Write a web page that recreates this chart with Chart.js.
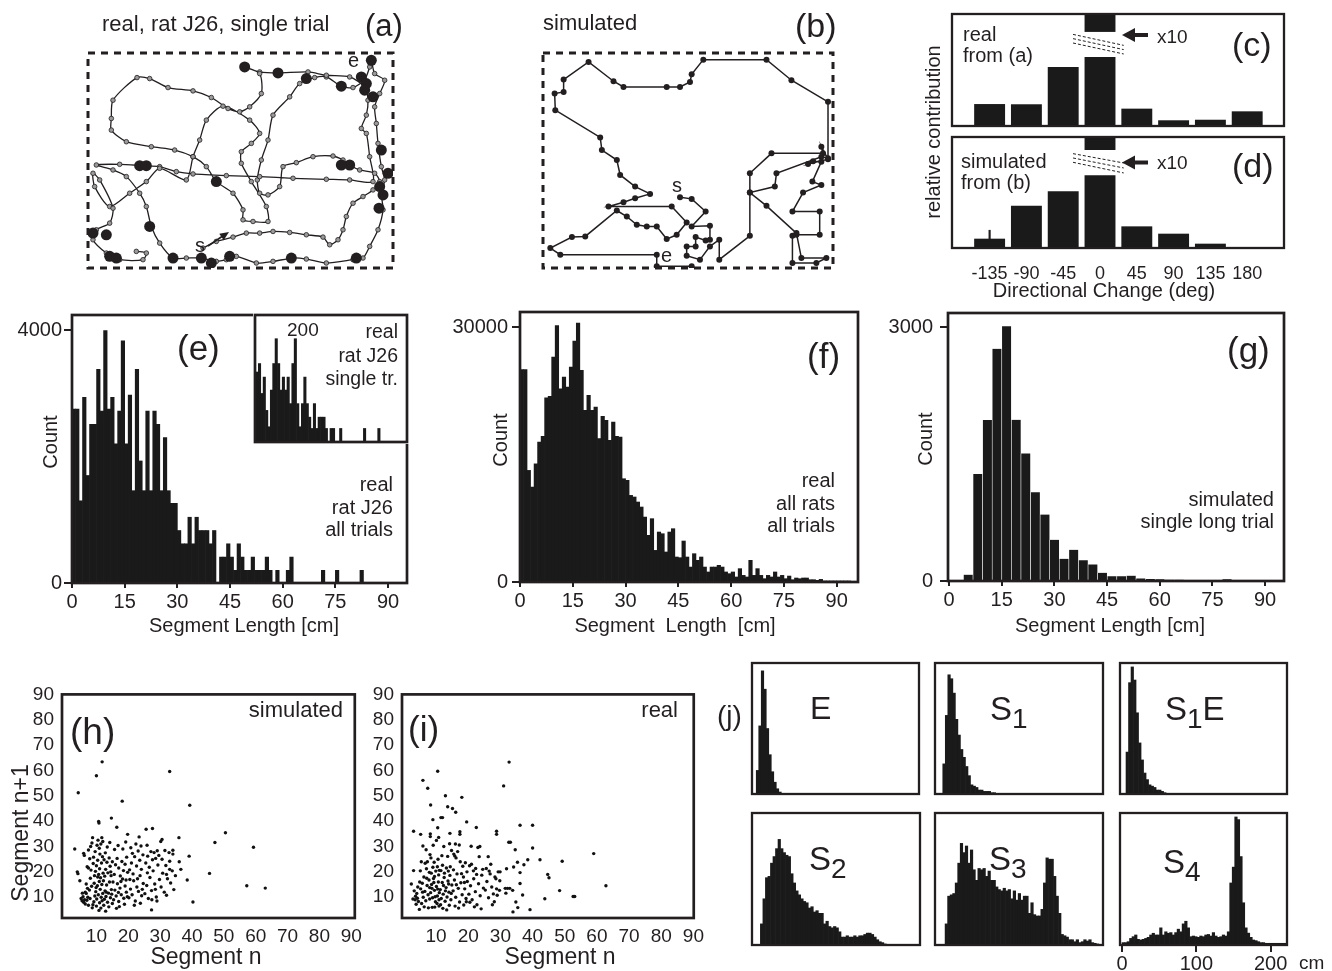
<!DOCTYPE html>
<html>
<head>
<meta charset="utf-8">
<script src="https://cdn.jsdelivr.net/npm/chart.js@4.4.1/dist/chart.umd.min.js"></script>
<style>
html, body { margin: 0; padding: 0; background: #fff; overflow: hidden; }
#fig { position: relative; width: 1332px; height: 971px; overflow: hidden;
       font-family: "Liberation Sans", Arial, sans-serif; color: #231f20; }
#fig canvas { position: absolute; }
.t { position: absolute; white-space: pre; line-height: 1; }
#ov { position: absolute; left: 0; top: 0; }
</style>
</head>
<body>
<div id="fig">
  <canvas id="cA"></canvas>
  <canvas id="cB"></canvas>
  <canvas id="cC"></canvas>
  <canvas id="cD"></canvas>
  <canvas id="cE"></canvas>
  <canvas id="cEin"></canvas>
  <canvas id="cF"></canvas>
  <canvas id="cG"></canvas>
  <canvas id="cH"></canvas>
  <canvas id="cI"></canvas>
  <canvas id="cJ0"></canvas>
  <canvas id="cJ1"></canvas>
  <canvas id="cJ2"></canvas>
  <canvas id="cJ3"></canvas>
  <canvas id="cJ4"></canvas>
  <canvas id="cJ5"></canvas>
  <svg id="ov" width="1332" height="971">
    <!-- arrow next to s in (a) -->
    <line x1="208" y1="246" x2="222" y2="236.5" stroke="#231f20" stroke-width="1.6"/>
    <polygon points="229,232 223.7,240.3 219.3,233.7" fill="#231f20"/>
    <!-- x10 arrows in (c) and (d) -->
    <polygon points="1122,35 1135,28 1135,42" fill="#231f20"/>
    <rect x="1134" y="33" width="14" height="4" fill="#231f20"/>
    <polygon points="1122,162.5 1135,155.5 1135,169.5" fill="#231f20"/>
    <rect x="1134" y="160.5" width="14" height="4" fill="#231f20"/>
  </svg>
</div>
<script>
// ---------------- data ----------------

// (a) real trajectory, tracker pixel coords (y down)
const realTrack = [
  [430,745],[470,725],[520,712],[560,700],[600,700],[640,695],[690,698],[740,705],[790,712],[810,735],
  [835,720],[850,690],[860,650],[880,610],[910,590],[940,570],[960,545],[945,520],[900,510],[870,495],
  [850,480],[820,468],[760,470],[710,488],[670,500],[660,560],[625,585],[600,580],[593,540],[605,480],
  [625,420],[640,345],[690,290],[720,250],[765,232],[800,230],[845,258],[880,262],[915,238],[930,200],
  [935,180],[945,220],[975,240],[960,280],[945,320],[950,370],[955,430],[965,500],[975,540],[965,580],
  [970,630],[955,690],[930,740],[910,775],[880,780],[800,790],[740,778],[700,775],[640,785],[590,790],
  [530,770],[500,780],[470,785],[425,775],[380,775],[340,775],[300,730],[275,680],[260,620],[240,580],
  [200,530],[160,510],[110,495],[180,493],[250,497],[300,500],[350,515],[400,522],[500,527],[600,530],
  [700,535],[800,538],[870,540],[940,545],[930,470],[920,400],[905,385],[920,345],[925,300],[915,260],
  [870,230],[800,225],[745,215],[655,218],[600,215],[555,200],[600,220],[605,280],[570,320],[540,335],
  [505,325],[455,292],[400,272],[325,262],[270,235],[232,232],[160,300],[155,355],[155,390],[200,425],
  [275,440],[345,450],[400,470],[440,500],[470,545],[520,580],[550,630],[550,660],[580,665],[625,665],
  [620,620],[575,545],[545,490],[545,455],[575,430],[600,400],[570,360],[490,318],[440,360],[420,420],
  [400,470],[380,540],[300,505],[260,545],[210,580],[150,620],[105,560],[100,520],[120,540],[160,625],
  [150,670],[110,690],[100,720],[140,760],[180,780],[250,780],[260,760],[230,755]
];
const realPauses = [
  [555,200],[655,218],[740,235],[845,258],[935,180],[905,230],[920,250],[915,270],[940,290],[870,495],
  [845,495],[240,497],[260,497],[470,545],[965,450],[960,560],[970,585],[958,625],[140,705],[150,770],
  [170,775],[100,700],[425,775],[510,770],[455,790],[340,775],[695,775],[890,775],[270,680],[985,520]
];

// (b) simulated trajectory, same coordinate frame
const simTrack = [
  [480,592],[515,597],[557,635],[515,680],[570,678],[570,720],[557,722],[527,712],[527,740],[500,740],
  [500,768],[540,780],[570,740],[598,720],[598,780],[690,708],[690,578],[690,520],[755,460],[910,460],
  [905,440],[925,478],[865,492],[880,484],[905,485],[878,545],[905,555],[850,578],[818,635],[900,635],
  [900,705],[830,705],[818,708],[818,790],[890,790],[920,775],[845,775],[830,700],[740,618],[690,578],
  [765,560],[770,520],[905,470],[925,475],[925,305],[815,240],[740,178],[550,178],[515,222],[510,245],
  [480,260],[440,260],[310,260],[280,243],[205,185],[130,238],[130,275],[103,280],[105,330],[240,412],
  [245,450],[290,480],[300,525],[345,560],[390,582],[345,595],[310,607],[265,620],[455,620],[500,668],
  [470,705],[440,718],[410,680],[380,680],[350,675],[320,650],[290,632],[195,710],[155,712],[90,745],
  [120,765],[410,765],[410,800],[515,800]
];

// (c)/(d) directional change
const dirCats = [-135, -90, -45, 0, 45, 90, 135, 180];
const dirReal = [0.196, 0.194, 0.527, 0.616, 0.155, 0.051, 0.056, 0.131];
const dirSim = [0.084, 0.381, 0.511, 0.655, 0.195, 0.129, 0.039, 0.0];
const dirRealTop = [0.84, 1.0];   // upper piece of the broken (x10) bar
const dirSimTop = [0.883, 1.0];
const dirSimErr = [0.084, 0.16];
const breakReal = [[[-33, 0.818], [29, 0.720]], [[-33, 0.780], [29, 0.682]], [[-33, 0.741], [29, 0.643]]];
const breakSim = [[[-33, 0.850], [29, 0.766]], [[-33, 0.811], [29, 0.721]], [[-33, 0.772], [29, 0.676]]];

// (e) real rat J26 all trials, 1 cm bins from 0
const eCounts = [
  2750,2750,1300,2935,1700,2510,2510,3380,2720,3990,
  2750,2935,2200,2720,3830,2200,2970,1460,3380,1930,
  1460,2720,1460,2720,2510,1460,2300,1460,1260,1260,
  830,620,620,1040,620,1040,830,830,830,620,
  830,0,410,410,620,410,200,620,410,200,
  200,410,200,200,200,410,200,0,200,0,
  0,200,410,0,0,0,0,0,0,0,
  0,200,0,0,0,200,0,0,0,0,
  0,0,200,0,0,0,0,0,0,0,
  0,0,0,0,0
];
// (e) inset, single trial, 1.5 cm bins from 0.6
const insetCounts = [
  124,139,86,115,56,27,92,139,183,139,
  92,115,92,115,68,139,183,68,27,68,
  115,68,44,24,68,24,44,44,44,24,
  0,24,24,0,0,24,0,0,0,0,
  0,0,0,0,0,24,0,0,0,0,
  0,24
];
// (f) all rats, 1 cm bins from 0
const fCounts = [
  25000,25000,13130,11170,13900,16460,17130,21680,21830,26460,
  30180,22740,24110,22930,25280,28340,30460,24890,20190,21950,
  20190,20580,16860,19480,19010,16660,18820,17130,17050,12150,
  11960,10190,10000,9410,8820,7640,5490,7450,3720,5880,
  5680,3530,5880,6270,2940,2860,4820,2940,1760,3330,
  2550,2940,1760,1180,1760,1760,1960,1760,1180,980,
  1180,590,1570,780,590,2550,780,1570,780,390,
  780,590,1180,590,780,390,700,270,470,390,
  470,470,270,270,200,310,120,80,60,40,
  30,20,10,10,0,0
];
// (g) simulated single long trial, 2.73 cm bins from 4.1
const gCounts = [
  75,1265,1902,2745,3010,1905,1508,1049,786,487,
  263,369,244,196,98,55,55,63,31,24,
  20,16,16,12,10,8,8,20,6,4,
  4,4,8
];

// (h) simulated, (i) real: segment n vs segment n+1 [cm]
const simPairs = [
  [11.8,63.4],[10,57.9],[4.3,51.2],[33,59.6],[18.1,47.9],[39.3,46.3],[10.7,39.9],[10.8,39.3],[14.7,41.2],[16.4,37.6],
  [50.5,35.4],[47.2,31.6],[59.3,29.7],[45.5,19.4],[57.2,14.5],[63,13.6],[40.3,8.1],[27.3,5.0],[35.9,33.5],[39.1,26.2],
  [38.5,16.8],[3.2,29],[4,20],[4.2,19.3],[4.8,16.5],[25.6,36.8],[27.6,37.1],[23.4,33.8],[19.8,34.8],[30.6,32.8],
  [34,27],[36,24],[36.5,21],[33,21],[32,19],
  [5.2,9.5],[5.5,8.6],[5.8,10.2],[6.0,8.0],[6.3,9.0],[6.5,7.3],[6.8,11.5],[7.0,8.8],[7.3,10.0],[7.5,6.8],
  [7.8,12.8],[8.0,9.5],[6.2,26.5],[6.0,27.3],[7.5,28.6],[8.2,30.0],[7.9,25.2],[8.6,31.4],[8.8,33.5],[7.1,22.0],
  [7.5,21.5],[8.1,17.5],[6.8,15.2],[7.2,13.5],[8.5,14.3],[8.3,20.7],[6.5,12.0],[5.6,11.6],[8.9,7.0],[8.7,5.8],
  [9.2,8.2],[9.5,10.5],[9.8,12.2],[10.1,9.3],[10.3,14.5],[10.6,11.0],[10.9,16.2],[11.2,13.1],[11.5,10.0],[11.8,8.6],
  [9.4,18.5],[9.7,20.2],[10.0,22.4],[10.4,24.6],[10.7,19.0],[11.0,21.2],[11.3,17.7],[11.6,23.5],[11.9,26.0],[9.1,25.8],
  [9.6,28.0],[10.2,30.5],[10.5,32.5],[10.9,29.3],[11.4,31.0],[11.7,33.5],[12.0,32.0],[9.3,15.5],[10.0,6.5],[10.8,4.8],
  [11.4,5.7],[12.0,11.5],[11.1,27.0],[9.9,13.8],[10.4,18.0],[11.7,15.0],[9.0,23.3],[12.1,19.5],[12.3,6.8],[11.0,7.8],
  [12.5,9.2],[12.7,12.5],[13.0,10.3],[13.2,14.8],[13.5,8.0],[13.8,11.6],[14.1,16.0],[14.4,9.8],[14.7,13.0],[15.0,7.5],
  [12.6,18.3],[12.9,21.0],[13.3,23.8],[13.6,19.6],[14.0,25.5],[14.3,22.2],[14.6,18.5],[12.8,27.5],[13.4,29.8],[14.2,31.6],
  [12.4,24.8],[13.9,6.2],[14.8,11.2],[12.2,16.5],[13.1,12.0],[14.5,20.0],[12.9,4.5],[15.0,24.0],
  [15.4,9.0],[15.8,12.8],[16.2,10.5],[16.6,15.3],[17.0,8.3],[17.4,13.6],[17.8,11.0],[18.2,17.2],[18.6,9.6],[19.0,14.4],
  [19.4,12.0],[19.8,19.8],[15.6,19.0],[16.0,22.8],[16.5,25.3],[17.0,21.5],[17.5,18.4],[18.0,24.1],[18.5,20.5],[19.0,23.0],
  [19.5,25.8],[15.7,28.8],[16.8,30.4],[18.3,29.0],[19.2,31.8],[17.2,6.3],[18.8,7.2],[16.3,5.6],[19.7,10.2],[15.2,16.0],
  [17.7,16.2],[19.3,16.8],[16.9,11.9],
  [20.2,9.8],[20.7,13.2],[21.2,11.0],[21.7,16.5],[22.2,8.5],[22.7,14.0],[23.2,12.3],[23.7,18.5],[24.2,10.6],[24.7,15.4],
  [20.4,20.8],[21.0,23.5],[21.5,19.2],[22.0,26.0],[22.6,22.3],[23.1,28.2],[23.6,24.6],[24.1,21.0],[24.6,26.7],[20.8,29.5],
  [22.4,31.0],[24.0,30.2],[21.9,6.8],[23.8,7.6],[20.5,17.0],[22.9,17.3],[24.4,13.1],[21.3,27.3],
  [25.2,11.4],[25.8,14.6],[26.3,9.5],[26.8,17.8],[27.3,12.6],[27.8,20.4],[28.3,15.2],[28.8,10.1],[29.3,22.7],[29.8,17.0],
  [25.5,23.5],[26.1,26.2],[26.6,21.8],[27.1,28.0],[27.6,24.8],[28.1,27.6],[28.6,25.3],[29.1,28.3],[29.6,26.5],[25.9,30.5],
  [27.4,9.0],[29.0,8.5],[26.0,19.6],[28.5,13.1],
  [30.3,14.0],[30.8,19.5],[31.3,12.0],[31.8,22.5],[32.3,17.3],[32.8,27.6],[33.3,15.6],[33.8,20.4],[34.3,13.0],[30.6,25.0],
  [31.5,28.4],[32.0,10.8],[33.0,24.2],[34.0,28.5],[34.8,18.5],[30.2,32.0]
];
const realPairs = [
  [32.7,63.3],[10.5,59.7],[5.9,56.1],[7.4,53],[31,53.9],[12.9,50],[18,49.4],[8.3,46.4],[13.6,45.7],[15.1,45],
  [16.1,43.5],[9,40.6],[11.5,41.4],[12,41.4],[19.5,39.7],[36.1,38.4],[40,38.4],[3,36],[5.2,34.8],[8.2,35],
  [8.2,33.9],[10.5,37.4],[14.3,35.2],[17.4,35.8],[17.4,34.8],[22.5,37.5],[28.8,36],[28.8,34.8],[32.6,31.7],[33.1,31.7],
  [40,29.4],[38.5,24.8],[42.3,24.8],[49.2,24.2],[59,27.2],[62.8,14.5],[44.7,19],[45.1,17.7],[48.4,12.6],[52.6,10.3],
  [53.1,10.3],[43.8,9.4],[39.2,5.1],[35.4,5.9],[33.9,4.2],[34.8,8.1],[36.9,10.9],[36.1,15.4],[36.1,19.7],[34.6,28.7],
  [34.1,21.9],[31.9,21.2],[31.5,13.5],[32.2,13.5],[32.9,13.5],[31.7,11.6],[33.8,12.7],[37.3,22.8],[35.3,23.8],
  [2.3,15.2],[3.0,20.5],[3.2,12.5],[3.5,9.0],[3.8,7.2],[4.0,11.5],[4.3,14.0],[4.5,8.3],[4.8,5.2],[4.9,16.0],
  [3.6,10.4],[4.2,9.6],[2.8,9.3],
  [5.2,13.3],[5.5,7.5],[5.7,15.5],[6.0,10.0],[6.2,18.0],[6.5,12.3],[6.8,8.6],[7.0,21.2],[7.2,14.6],[7.5,11.0],
  [7.8,16.8],[8.0,9.3],[5.4,24.0],[6.6,23.4],[7.3,24.0],[7.9,19.8],[5.9,30.2],[6.3,6.2],[7.6,5.8],[6.9,28.7],
  [8.1,26.8],[5.1,20.4],[7.1,17.5],[5.8,12.0],[8.0,13.8],
  [8.3,11.8],[8.6,15.0],[8.9,9.8],[9.2,17.4],[9.5,12.7],[9.8,8.2],[10.1,14.2],[10.4,10.5],[10.7,16.0],[11.0,11.8],
  [8.5,19.5],[9.0,21.8],[9.5,18.2],[9.9,20.3],[10.4,22.0],[10.8,18.8],[8.8,6.0],[9.6,6.1],[10.3,7.5],[10.9,9.0],
  [8.4,25.5],[9.4,23.8],[10.6,25.0],[9.1,30.5],[10.1,32.4],[10.8,33.6],[9.7,10.2],[10.5,13.2],[8.7,13.5],[11.0,20.6],
  [9.3,15.8],[10.9,6.5],
  [11.3,13.0],[11.6,9.5],[11.9,15.8],[12.2,11.2],[12.5,17.8],[12.8,8.4],[13.1,13.8],[13.4,10.1],[13.7,16.4],[14.0,12.0],
  [14.3,18.6],[14.6,9.0],[14.9,14.8],[11.5,20.5],[12.0,22.6],[12.6,19.5],[13.2,21.5],[13.8,20.3],[14.4,22.0],[11.8,26.4],
  [12.4,30.0],[13.6,26.1],[14.2,31.1],[14.8,28.4],[12.1,5.6],[13.3,5.0],[14.1,6.8],[11.4,7.0],[12.9,12.5],[14.7,11.5],
  [12.3,14.6],[13.9,15.2],
  [15.3,12.5],[15.7,16.8],[16.1,10.0],[16.5,19.2],[16.9,13.5],[17.3,8.1],[17.7,15.7],[18.1,11.0],[18.5,18.0],[18.9,13.3],
  [19.3,9.5],[19.7,16.2],[15.5,27.0],[15.8,26.3],[16.2,25.5],[16.7,28.0],[17.5,24.0],[18.3,22.2],[19.1,23.6],[19.6,20.0],
  [15.9,6.5],[17.0,5.7],[18.6,6.9],[19.4,8.2],[15.4,20.8],[17.9,19.3],[16.3,14.9],[18.8,15.8],[16.0,31.0],[17.2,30.6],
  [20.2,11.2],[20.7,14.5],[21.2,9.0],[21.7,17.3],[22.2,12.2],[22.7,7.0],[23.2,15.3],[23.7,10.6],[24.2,18.7],[24.7,13.6],
  [20.4,22.4],[21.0,23.0],[21.6,20.4],[22.3,21.3],[23.0,29.6],[23.6,30.0],[20.9,30.1],[21.9,6.2],[24.0,5.4],[20.5,8.0],
  [22.6,19.0],[24.5,21.0],[23.4,26.0],
  [25.3,12.8],[25.8,16.2],[26.3,9.8],[26.8,19.2],[27.3,14.0],[27.8,11.3],[28.3,18.0],[28.8,13.3],[29.3,20.0],[29.8,16.5],
  [25.6,21.3],[26.2,26.0],[27.0,23.0],[28.1,8.2],[29.0,10.8],[29.7,12.7],[27.5,7.0],[26.5,20.3],[29.9,20.0],[28.6,17.3]
];

// (j) segment-length histograms per environment, normalised, 3.37 cm bins
const jBinWidth = 3.37;
const jStarts = [3.0, 7.7, 5.4, 8.5, 10.8, 0.0];
const jE = [0.18,0.52,0.94,0.80,0.50,0.30,0.17,0.09,0.04,0.015];
const jS1 = [0.23,0.60,0.91,0.88,0.77,0.57,0.45,0.34,0.28,0.21,0.14,0.07,0.06,0.05,0.03,0.03,0.02,0.02,0.02,0.01,0.01,0.005,0.005];
const jS1E = [0.32,0.85,0.97,0.87,0.62,0.39,0.26,0.16,0.11,0.07,0.06,0.05,0.03,0.03,0.02,0.01,0.005];
const jS2 = [0.16,0.35,0.51,0.52,0.62,0.67,0.73,0.80,0.73,0.70,0.68,0.67,0.54,0.47,0.41,0.38,0.35,0.33,0.32,0.28,
  0.29,0.25,0.26,0.24,0.24,0.16,0.18,0.14,0.13,0.14,0.13,0.10,0.06,0.06,0.07,0.06,0.06,0.07,0.06,0.07,
  0.07,0.08,0.09,0.09,0.08,0.06,0.04,0.025,0.018,0.008];
const jS3 = [0.16,0.37,0.38,0.39,0.47,0.62,0.77,0.70,0.75,0.62,0.72,0.57,0.49,0.58,0.57,0.58,0.52,0.56,0.49,0.49,
  0.44,0.42,0.41,0.43,0.41,0.42,0.35,0.41,0.34,0.39,0.34,0.37,0.37,0.24,0.32,0.23,0.22,0.22,0.27,0.47,
  0.66,0.65,0.65,0.52,0.37,0.24,0.08,0.07,0.06,0.04,0.04,0.025,0.04,0.018,0.025,0.04,0.03,0.04,0.018,0.013,0.008];
const jS4 = [0.018,0.018,0.025,0.05,0.063,0.076,0.043,0.038,0.043,0.05,0.058,0.076,0.089,0.076,0.076,0.13,0.076,0.10,0.089,0.094,
  0.076,0.094,0.12,0.10,0.16,0.18,0.13,0.063,0.068,0.063,0.058,0.068,0.063,0.076,0.08,0.068,0.094,0.068,0.058,0.063,
  0.076,0.068,0.10,0.47,0.59,0.97,0.95,0.67,0.32,0.13,0.09,0.058,0.038,0.033,0.025,0.018,0.018,0.013,0.013,0.013,
  0.013,0.013,0.013,0.013,0.013,0.013];
const jValues = [jE, jS1, jS1E, jS2, jS3, jS4];

// tick labels
const eTicksX = [0, 15, 30, 45, 60, 75, 90];
const eTicksY = [0, 4000];
const fTicksY = [0, 30000];
const gTicksY = [0, 3000];
const pairTicks = [10, 20, 30, 40, 50, 60, 70, 80, 90];
const jTicksX = [0, 100, 200];

// ---------------- setup ----------------
const INK = '#231f20';
const BAR = '#1a1a1a';
Chart.defaults.font.family = '"Liberation Sans", Arial, sans-serif';
Chart.defaults.color = INK;
Chart.defaults.animation = false;
Chart.defaults.plugins.legend.display = false;
Chart.defaults.plugins.tooltip.enabled = false;

// box around the plot area (solid or dashed), optional white background
Chart.register({
  id: 'frame',
  beforeDraw(chart, args, o) {
    if (!o || !o.bg) return;
    const a = chart.chartArea, ctx = chart.ctx;
    ctx.save();
    ctx.fillStyle = o.bg;
    ctx.fillRect(a.left - 2, a.top - 2, a.width + 4, a.height + 4);
    ctx.restore();
  },
  afterDatasetsDraw(chart, args, o) {
    if (!o || !o.width) return;
    const a = chart.chartArea, ctx = chart.ctx;
    ctx.save();
    ctx.strokeStyle = INK;
    ctx.lineWidth = o.width;
    ctx.setLineDash(o.dash || []);
    ctx.strokeRect(a.left, a.top, a.width, a.height);
    ctx.restore();
  }
});

function axis({ min, max, ticks = null, tickLen = 0, pad = 3, size = 20, reverse = false }) {
  return {
    type: 'linear', min, max, reverse, offset: false,
    afterBuildTicks: s => { s.ticks = (ticks || []).map(v => ({ value: v })); },
    ticks: { display: !!ticks, padding: pad, font: { size }, color: INK,
             autoSkip: false, maxRotation: 0, callback: v => String(v) },
    grid: { display: tickLen > 0, drawOnChartArea: false, drawTicks: true, tickLength: tickLen,
            lineWidth: 2, color: INK, offset: false },
    border: { display: false }
  };
}

// place a canvas so its chart area lands exactly on box
function mount(id, box, pad, cfg) {
  const c = document.getElementById(id);
  c.width = box.w + pad.l + pad.r;
  c.height = box.h + pad.t + pad.b;
  c.style.left = (box.x - pad.l) + 'px';
  c.style.top = (box.y - pad.t) + 'px';
  const o = cfg.options;
  o.responsive = false;
  o.devicePixelRatio = 1;
  o.layout = { padding: { top: pad.t, right: pad.r, left: 0, bottom: 0 } };
  o.scales.x.afterFit = s => { s.height = pad.b; };
  o.scales.y.afterFit = s => { s.width = pad.l; };
  return new Chart(c, cfg);
}

const toXY = a => a.map(p => ({ x: p[0], y: p[1] }));
const binsXY = (vals, start, w) => vals.map((v, i) => ({ x: start + w * (i + 0.5), y: v }));
const histSet = (data, extra = {}) => Object.assign({
  data, backgroundColor: BAR, borderWidth: 0, barPercentage: 1, categoryPercentage: 1, grouped: false
}, extra);

// ---------------- (a) and (b) trajectories ----------------
mount('cA', { x: 88, y: 53, w: 305, h: 215 }, { l: 6, r: 6, t: 6, b: 6 }, {
  type: 'scatter',
  data: { datasets: [
    { data: toXY(realTrack), order: 1, showLine: true, borderColor: INK, borderWidth: 1.3, tension: 0.25,
      pointRadius: 2.3, pointBackgroundColor: '#9a9a9a', pointBorderColor: INK, pointBorderWidth: 0.8 },
    { data: toXY(realPauses), order: 0, pointRadius: 5.5, pointBackgroundColor: INK, pointBorderWidth: 0 }
  ] },
  options: { plugins: { frame: { width: 3, dash: [7, 6] } },
    scales: { x: axis({ min: 85, max: 1000 }), y: axis({ min: 158, max: 805, reverse: true }) } }
});

mount('cB', { x: 543, y: 53, w: 290, h: 215 }, { l: 6, r: 6, t: 6, b: 6 }, {
  type: 'scatter',
  data: { datasets: [
    { data: toXY(simTrack), showLine: true, borderColor: INK, borderWidth: 1.5, tension: 0,
      pointRadius: 3, pointBackgroundColor: INK, pointBorderWidth: 0 }
  ] },
  options: { plugins: { frame: { width: 3, dash: [7, 6] } },
    scales: { x: axis({ min: 68, max: 940 }), y: axis({ min: 158, max: 805, reverse: true }) } }
});

// ---------------- (c) and (d) directional change ----------------
function dirChart(id, box, pad, vals, top, breaks, err, showTicks) {
  const sets = [
    histSet(dirCats.map((c, i) => ({ x: c, y: vals[i] })), { barPercentage: 0.84 }),
    histSet([{ x: 0, y: top }], { barPercentage: 0.84 })
  ];
  if (err) sets.push(histSet([{ x: -135, y: err }], { barThickness: 1.5, backgroundColor: INK }));
  breaks.forEach(seg => sets.push({ type: 'line', data: toXY(seg), borderColor: INK, borderWidth: 1,
    borderDash: [3, 2], pointRadius: 0 }));
  return mount(id, box, pad, {
    type: 'bar',
    data: { datasets: sets },
    options: { plugins: { frame: { width: 2.3 } },
      scales: { x: axis({ min: -181, max: 225, ticks: showTicks ? dirCats : null, pad: 15, size: 18 }),
                y: axis({ min: 0, max: 1 }) } }
  });
}
dirChart('cC', { x: 952, y: 14, w: 332, h: 112 }, { l: 6, r: 6, t: 6, b: 6 }, dirReal, dirRealTop, breakReal, null, false);
dirChart('cD', { x: 952, y: 137, w: 332, h: 111 }, { l: 6, r: 10, t: 6, b: 50 }, dirSim, dirSimTop, breakSim, dirSimErr, true);

// ---------------- (e), (f), (g) segment length histograms ----------------
mount('cE', { x: 72, y: 315, w: 335, h: 268 }, { l: 72, r: 8, t: 18, b: 32 }, {
  type: 'bar',
  data: { datasets: [histSet(binsXY(eCounts, 0, 1))] },
  options: { plugins: { frame: { width: 2.7 } },
    scales: { x: axis({ min: 0, max: 95.4, ticks: eTicksX, tickLen: 5, pad: 2 }),
              y: axis({ min: 0, max: 4238, ticks: eTicksY, tickLen: 8, pad: 2 }) } }
});
mount('cEin', { x: 255, y: 315, w: 152, h: 127 }, { l: 3, r: 3, t: 3, b: 3 }, {
  type: 'bar',
  data: { datasets: [histSet(binsXY(insetCounts, 0.6, 1.5))] },
  options: { plugins: { frame: { width: 2.7, bg: '#fff' } },
    scales: { x: axis({ min: 0, max: 95.5 }), y: axis({ min: 0, max: 225 }) } }
});
mount('cF', { x: 520, y: 312, w: 338, h: 270 }, { l: 90, r: 8, t: 18, b: 32 }, {
  type: 'bar',
  data: { datasets: [histSet(binsXY(fCounts, 0, 1))] },
  options: { plugins: { frame: { width: 2.7 } },
    scales: { x: axis({ min: 0, max: 96.05, ticks: eTicksX, tickLen: 5, pad: 2 }),
              y: axis({ min: 0, max: 31765, ticks: fTicksY, tickLen: 8, pad: 4 }) } }
});
mount('cG', { x: 948, y: 312, w: 336, h: 269 }, { l: 72, r: 8, t: 18, b: 32 }, {
  type: 'bar',
  data: { datasets: [histSet(binsXY(gCounts, 4.1, 2.73),
    { borderColor: 'rgba(255,255,255,0.75)', borderWidth: { left: 0.6, right: 0.6, top: 0, bottom: 0 } })] },
  options: { plugins: { frame: { width: 2.7 } },
    scales: { x: axis({ min: -0.3, max: 95.4, ticks: eTicksX, tickLen: 5, pad: 2 }),
              y: axis({ min: 0, max: 3168, ticks: gTicksY, tickLen: 8, pad: 7 }) } }
});

// ---------------- (h) and (i) return maps ----------------
function pairChart(id, box, pad, pts, xmin, xmax) {
  return mount(id, box, pad, {
    type: 'scatter',
    data: { datasets: [{ data: toXY(pts), pointRadius: 1.7, pointBackgroundColor: '#111', pointBorderWidth: 0 }] },
    options: { plugins: { frame: { width: 2.7 } },
      scales: { x: axis({ min: xmin, max: xmax, ticks: pairTicks, pad: 7, size: 19 }),
                y: axis({ min: 1.8, max: 90, ticks: pairTicks, pad: 8, size: 19 }) } }
  });
}
pairChart('cH', { x: 62, y: 689, w: 295, h: 229 }, { l: 45, r: 12, t: 14, b: 32 }, simPairs, -0.8, 91.1);
pairChart('cI', { x: 402, y: 689, w: 295, h: 229 }, { l: 45, r: 14, t: 14, b: 32 }, realPairs, -0.6, 90.1);

// ---------------- (j) small histograms ----------------
const jBoxes = [
  { x: 752, y: 663, w: 167, h: 131 }, { x: 935, y: 663, w: 168, h: 131 }, { x: 1120, y: 663, w: 167, h: 131 },
  { x: 752, y: 813, w: 168, h: 132 }, { x: 935, y: 813, w: 168, h: 132 }, { x: 1120, y: 813, w: 167, h: 132 }
];
jValues.forEach((vals, k) => {
  const last = k === 5;
  mount('cJ' + k, jBoxes[k], last ? { l: 8, r: 10, t: 4, b: 30 } : { l: 4, r: 4, t: 4, b: 4 }, {
    type: 'bar',
    data: { datasets: [histSet(binsXY(vals, jStarts[k], jBinWidth))] },
    options: { plugins: { frame: { width: 2.3 } },
      scales: { x: axis({ min: -2.7, max: 222, ticks: last ? jTicksX : null, tickLen: last ? 7 : 0, pad: 0 }),
                y: axis({ min: 0, max: 1 }) } }
  });
});

// ---------------- text ----------------
const fig = document.getElementById('fig');
function txt(s, x, cy, fs, o = {}) {
  const d = document.createElement('div');
  d.className = 't';
  d.textContent = s;
  d.style.fontSize = fs + 'px';
  if (o.rot) {
    d.style.left = x + 'px';
    d.style.top = cy + 'px';
    d.style.transform = 'translate(-50%,-50%) rotate(-90deg)';
  } else {
    d.style.left = x + 'px';
    d.style.top = (cy - 0.49 * fs) + 'px';
    if (o.align === 'right') d.style.transform = 'translateX(-100%)';
    if (o.align === 'center') d.style.transform = 'translateX(-50%)';
  }
  fig.appendChild(d);
  return d;
}
function subTxt(main, sub, tail, x, cy) {
  const d = txt(main, x, cy, 33);
  const s = document.createElement('span');
  s.textContent = sub;
  s.style.fontSize = '28px';
  s.style.position = 'relative';
  s.style.top = '8px';
  d.appendChild(s);
  if (tail) d.appendChild(document.createTextNode(tail));
}

txt('real, rat J26, single trial', 102, 23.5, 22);
txt('(a)', 365, 25, 31);
txt('s', 195, 245, 20);
txt('e', 348, 60, 20);
txt('simulated', 543, 23, 22);
txt('(b)', 795, 25, 34);
txt('s', 672, 185, 20);
txt('e', 661, 255, 20);

txt('real', 963, 34, 20);
txt('from (a)', 963, 55, 20);
txt('x10', 1157, 36, 19);
txt('(c)', 1232, 44, 34);
txt('simulated', 961, 161, 20);
txt('from (b)', 961, 182, 20);
txt('x10', 1157, 162, 19);
txt('(d)', 1232, 165, 34);
txt('relative contribution', 933, 132, 20, { rot: true });
txt('Directional Change (deg)', 1104, 290, 20, { align: 'center' });

txt('(e)', 177, 347, 35);
txt('Count', 50, 442, 20, { rot: true });
txt('Segment Length [cm]', 244, 625, 20, { align: 'center' });
txt('200', 287, 329, 19);
txt('real', 398, 332, 19.5, { align: 'right' });
txt('rat J26', 398, 356, 19.5, { align: 'right' });
txt('single tr.', 398, 379, 19.5, { align: 'right' });
txt('real', 393, 484, 20, { align: 'right' });
txt('rat J26', 393, 507, 20, { align: 'right' });
txt('all trials', 393, 529, 20, { align: 'right' });

txt('(f)', 807, 355, 35);
txt('Count', 500, 440, 20, { rot: true });
txt('Segment  Length  [cm]', 675, 625, 20, { align: 'center' });
txt('real', 835, 480, 20, { align: 'right' });
txt('all rats', 835, 503, 20, { align: 'right' });
txt('all trials', 835, 525, 20, { align: 'right' });

txt('(g)', 1227, 349, 35);
txt('Count', 925, 439, 20, { rot: true });
txt('Segment Length [cm]', 1110, 625, 20, { align: 'center' });
txt('simulated', 1274, 499, 20, { align: 'right' });
txt('single long trial', 1274, 521, 20, { align: 'right' });

txt('(h)', 70, 731, 37);
txt('simulated', 343, 710, 22, { align: 'right' });
txt('Segment n', 206, 956, 23, { align: 'center' });
txt('Segment n+1', 20, 833, 23, { rot: true });
txt('(i)', 408, 728, 35);
txt('real', 678, 710, 22, { align: 'right' });
txt('Segment n', 560, 956, 23, { align: 'center' });

txt('(j)', 717, 716, 28);
txt('E', 810, 708, 32);
subTxt('S', '1', '', 990, 708);
subTxt('S', '1', 'E', 1165, 708);
subTxt('S', '2', '', 809, 858);
subTxt('S', '3', '', 989, 858);
subTxt('S', '4', '', 1163, 861);
txt('cm', 1299, 962, 19);
</script>
</body>
</html>
